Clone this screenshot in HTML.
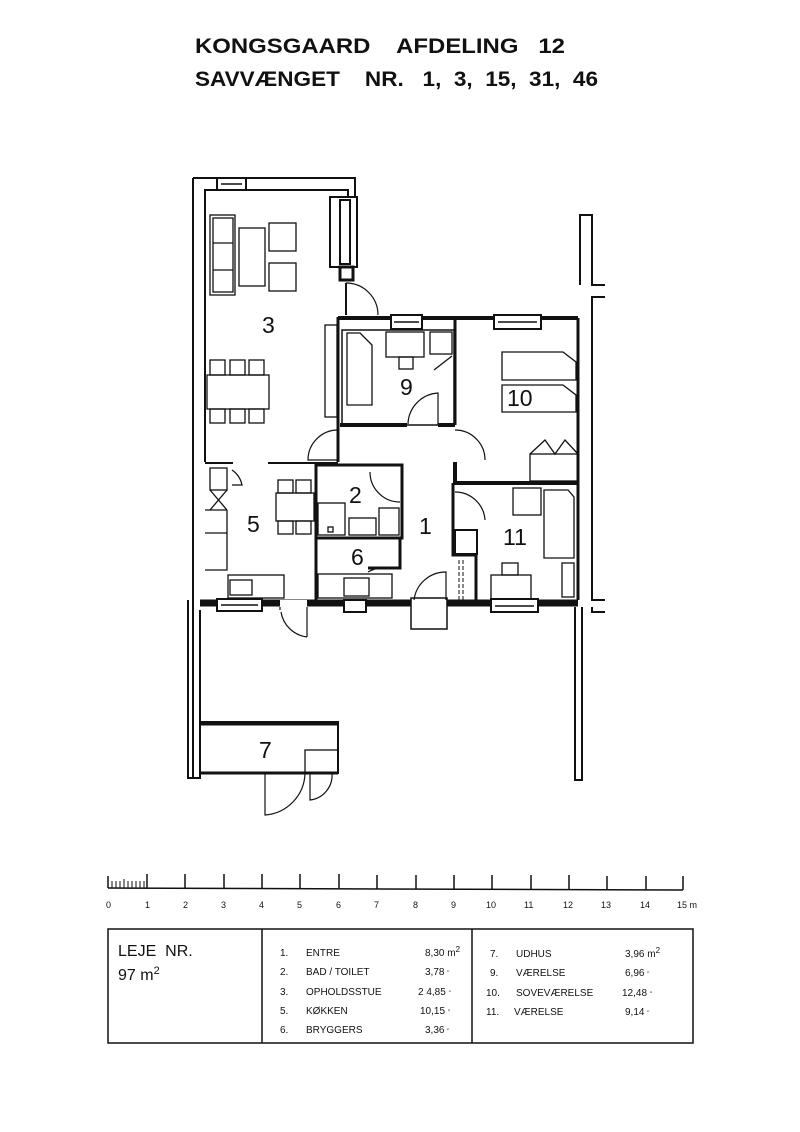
<!DOCTYPE html>
<html><head><meta charset="utf-8"><style>
html,body{margin:0;padding:0;background:#fff;}
svg{display:block;}
text{font-family:"Liberation Sans",sans-serif;fill:#111;white-space:pre;}
</style></head><body>
<svg width="800" height="1132" viewBox="0 0 800 1132" xmlns="http://www.w3.org/2000/svg" xml:space="preserve">
<rect width="800" height="1132" fill="#fff"/>
<text x="195" y="53" font-size="21" font-weight="bold" textLength="370" lengthAdjust="spacingAndGlyphs">KONGSGAARD    AFDELING   12</text>
<text x="195" y="86" font-size="21" font-weight="bold" textLength="403" lengthAdjust="spacingAndGlyphs">SAVVÆNGET    NR.   1,  3,  15,  31,  46</text>

<g fill="none" stroke="#111" stroke-width="2">
<path d="M193 178 L355 178 L355 197 L348 197 L348 190 L205 190 L205 462" />
<path d="M193 178 L193 778 L200 778" />
<rect x="217" y="178" width="29" height="12" fill="#fff"/>
<line x1="221" y1="184" x2="242" y2="184" stroke-width="1.5"/>
<rect x="330" y="197" width="27" height="70"/>
<rect x="340" y="200" width="10" height="64"/>
<rect x="340" y="267" width="13" height="13" stroke-width="3"/>
<line x1="346" y1="283" x2="346" y2="315"/>
<path d="M346 283 A32 32 0 0 1 378 315" stroke-width="1.2"/>
<path d="M338 317 L338 462" stroke-width="3"/>
<path d="M338 318 L578 318" stroke-width="4"/>
<rect x="391" y="315" width="31" height="14" fill="#fff"/>
<line x1="394" y1="322" x2="419" y2="322" stroke-width="1.5"/>
<rect x="494" y="315" width="47" height="14" fill="#fff"/>
<line x1="498" y1="322" x2="537" y2="322" stroke-width="1.5"/>
<path d="M578 318 L578 600" stroke-width="3"/>
<path d="M580 285 L580 215 L592 215 L592 285 L605 285"/>
<path d="M605 297 L592 297 L592 600 L605 600"/>
<rect x="342" y="330" width="112" height="95" stroke-width="1.5"/>
<path d="M340 425 L407 425 M438 425 L455 425" stroke-width="4"/>
<path d="M455 320 L455 425" stroke-width="3"/>
<path d="M438 425 L438 393 A32 32 0 0 0 408 424" stroke-width="1.2"/>
<path d="M455 462 L455 483 L578 483" stroke-width="4"/>
<path d="M455 430 A30 30 0 0 1 485 460" stroke-width="1.2"/>
<path d="M338 430 A30 30 0 0 0 308 460 L338 460" stroke-width="1.2"/>
<rect x="316" y="465" width="86" height="73" stroke-width="3"/>
<path d="M370 472 A30 30 0 0 0 400 502" stroke-width="1.2"/>
<path d="M316 538 L316 600 M368 568 L400 568 L400 538" stroke-width="3"/>
<path d="M205 463 L233 463 M268 463 L338 463" stroke-width="2"/>
<path d="M453 483 L453 555 L476 555 L476 600" stroke-width="3"/>
<rect x="455" y="530" width="22" height="24"/>
<path d="M455 492 A30 30 0 0 1 485 520" stroke-width="1.2"/>
<path d="M459 560 L459 600 M463 560 L463 600" stroke-width="1" stroke-dasharray="4 2"/>
<path d="M200 603 L578 603" stroke-width="7"/>
<rect x="217" y="599" width="45" height="12" fill="#fff"/>
<line x1="221" y1="605" x2="258" y2="605" stroke-width="1.5"/>
<rect x="344" y="600" width="22" height="12" fill="#fff"/>
<rect x="491" y="599" width="47" height="13" fill="#fff"/>
<line x1="495" y1="606" x2="534" y2="606" stroke-width="1.5"/>
<rect x="280" y="600" width="27" height="8" fill="#fff" stroke="none"/>
<path d="M280 607 L280 610 M307 607 L307 637 M307 637 A30 30 0 0 1 281 612" stroke-width="1.2"/>
<rect x="411" y="598" width="36" height="31" fill="#fff" stroke-width="1.5"/>
<path d="M414 600 A32 32 0 0 1 446 572 L446 600" stroke-width="1.2"/>
<path d="M188 600 L188 778 L200 778 L200 610" />
<path d="M575 607 L575 780 L582 780 L582 607" />
<path d="M592 607 L592 612 L605 612" />
<rect x="200" y="722" width="138" height="51" stroke-width="2"/>
<line x1="200" y1="724" x2="338" y2="724" stroke-width="3"/>
<rect x="305" y="750" width="33" height="23" stroke-width="1.3"/>
<line x1="200" y1="773" x2="338" y2="773" stroke-width="3"/>
<path d="M265 773 L265 815 A43 43 0 0 0 305 773" stroke-width="1.2"/>
<path d="M310 773 L310 800 A25 25 0 0 0 332 773" stroke-width="1.2"/>
</g>

<g fill="none" stroke="#111" stroke-width="1.3">
<rect x="210" y="215" width="25" height="80"/><rect x="213" y="218" width="20" height="74"/>
<line x1="213" y1="243" x2="233" y2="243"/><line x1="213" y1="270" x2="233" y2="270"/>
<rect x="239" y="228" width="26" height="58"/>
<rect x="269" y="223" width="27" height="28"/><rect x="269" y="263" width="27" height="28"/>
<rect x="207" y="375" width="62" height="34"/>
<rect x="210" y="360" width="15" height="15"/><rect x="230" y="360" width="15" height="15"/><rect x="249" y="360" width="15" height="15"/>
<rect x="210" y="409" width="15" height="14"/><rect x="230" y="409" width="15" height="14"/><rect x="249" y="409" width="15" height="14"/>
<rect x="325" y="325" width="12" height="92"/>
<path d="M347 333 L360 333 L372 345 L372 405 L347 405 Z"/>
<rect x="386" y="332" width="38" height="25"/><rect x="399" y="357" width="14" height="12"/>
<rect x="430" y="332" width="22" height="22"/><path d="M434 370 L452 356"/>
<path d="M502 352 L563 352 L576 362 L576 380 L502 380 Z"/>
<path d="M502 385 L563 385 L576 395 L576 412 L502 412 Z"/>
<path d="M530 454 L545 440 L555 454 L565 440 L578 454"/>
<rect x="530" y="454" width="48" height="27"/>
<rect x="210" y="468" width="17" height="22"/><path d="M210 490 L227 510 M227 490 L210 510"/>
<path d="M205 510 L227 510 M205 533 L227 533 M227 510 L227 570 L205 570"/>
<path d="M232 470 A24 24 0 0 1 242 485 L232 485"/>
<rect x="276" y="493" width="38" height="28"/>
<rect x="278" y="480" width="15" height="13"/><rect x="296" y="480" width="15" height="13"/>
<rect x="278" y="521" width="15" height="13"/><rect x="296" y="521" width="15" height="13"/>
<rect x="228" y="575" width="56" height="23"/><rect x="230" y="580" width="22" height="15"/>
<rect x="318" y="503" width="27" height="32"/><rect x="349" y="518" width="27" height="17"/><rect x="379" y="508" width="20" height="27"/>
<rect x="328" y="527" width="5" height="5"/>
<rect x="318" y="574" width="74" height="24"/><rect x="344" y="578" width="25" height="18"/>
<path d="M368 572 A30 30 0 0 1 388 568"/>
<rect x="513" y="488" width="28" height="27"/>
<path d="M544 490 L568 490 L574 497 L574 558 L544 558 Z"/>
<rect x="562" y="563" width="12" height="34"/>
<rect x="491" y="575" width="40" height="24"/><rect x="502" y="563" width="16" height="12"/>
</g>

<g font-size="23">
<text x="262" y="333">3</text>
<text x="400" y="395">9</text>
<text x="507" y="406">10</text>
<text x="349" y="503">2</text>
<text x="419" y="534">1</text>
<text x="247" y="532">5</text>
<text x="351" y="565">6</text>
<text x="503" y="545">11</text>
<text x="259" y="758">7</text>
</g>

<g stroke="#111" stroke-width="1.5" fill="none">
<path d="M108 888 L683 890"/>
<path d="M108 876 L108 888 M147 874 L147 888 M185 874 L185 888 M224 874 L224 888 M262 874 L262 888 M300 874 L300 888 M339 874 L339 888 M377 875 L377 889 M416 875 L416 889 M454 875 L454 889 M492 875 L492 889 M531 875 L531 889 M569 875 L569 889 M607 876 L607 890 M646 876 L646 890 M683 876 L683 890"/>
<path d="M112 881 L112 888 M116 881 L116 888 M120 881 L120 888 M124 879 L124 888 M128 881 L128 888 M132 881 L132 888 M136 881 L136 888 M140 881 L140 888 M144 881 L144 888" stroke-width="1"/>
</g>
<g font-size="9">
<text x="106" y="908">0</text><text x="145" y="908">1</text><text x="183" y="908">2</text><text x="221" y="908">3</text>
<text x="259" y="908">4</text><text x="297" y="908">5</text><text x="336" y="908">6</text><text x="374" y="908">7</text>
<text x="413" y="908">8</text><text x="451" y="908">9</text><text x="486" y="908">10</text><text x="524" y="908">11</text>
<text x="563" y="908">12</text><text x="601" y="908">13</text><text x="640" y="908">14</text><text x="677" y="908">15 m</text>
</g>

<g stroke="#111" stroke-width="1.5" fill="none">
<rect x="108" y="929" width="585" height="114"/>
<line x1="262" y1="929" x2="262" y2="1043"/>
<line x1="472" y1="929" x2="472" y2="1043"/>
</g>
<text x="118" y="956" font-size="16">LEJE  NR.</text>
<text x="118" y="980" font-size="16">97 m<tspan font-size="11" dy="-6">2</tspan></text>
<g font-size="10">
<text x="280" y="956">1.</text><text x="306" y="956">ENTRE</text><text x="425" y="956">8,30 m<tspan font-size="8" dy="-4">2</tspan></text>
<text x="280" y="975">2.</text><text x="306" y="975">BAD / TOILET</text><text x="425" y="975">3,78 <tspan font-size="6">"</tspan></text>
<text x="280" y="995">3.</text><text x="306" y="995">OPHOLDSSTUE</text><text x="418" y="995">2 4,85 <tspan font-size="6">"</tspan></text>
<text x="280" y="1014">5.</text><text x="306" y="1014">KØKKEN</text><text x="420" y="1014">10,15 <tspan font-size="6">"</tspan></text>
<text x="280" y="1033">6.</text><text x="306" y="1033">BRYGGERS</text><text x="425" y="1033">3,36 <tspan font-size="6">"</tspan></text>
<text x="490" y="957">7.</text><text x="516" y="957">UDHUS</text><text x="625" y="957">3,96 m<tspan font-size="8" dy="-4">2</tspan></text>
<text x="490" y="976">9.</text><text x="516" y="976">VÆRELSE</text><text x="625" y="976">6,96 <tspan font-size="6">"</tspan></text>
<text x="486" y="996">10.</text><text x="516" y="996">SOVEVÆRELSE</text><text x="622" y="996">12,48 <tspan font-size="6">"</tspan></text>
<text x="486" y="1015">11.</text><text x="514" y="1015">VÆRELSE</text><text x="625" y="1015">9,14 <tspan font-size="6">"</tspan></text>
</g>
</svg>
</body></html>
